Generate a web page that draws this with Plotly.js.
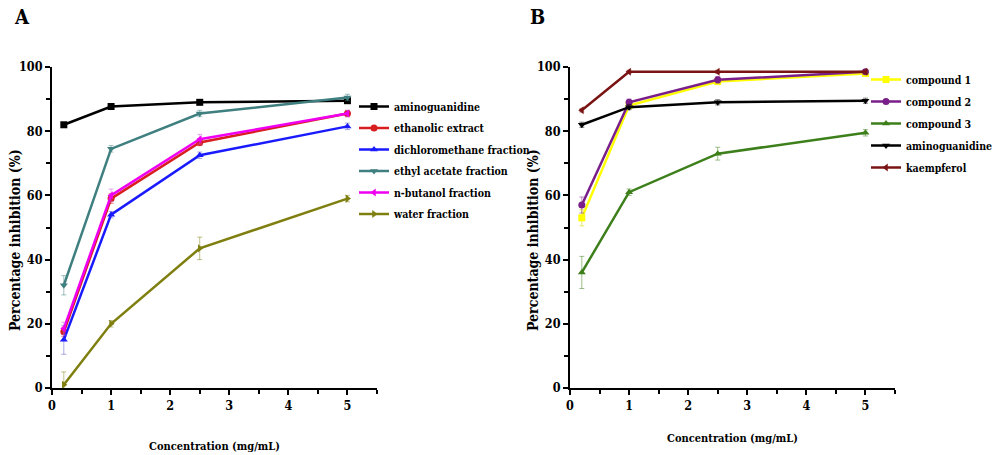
<!DOCTYPE html>
<html>
<head>
<meta charset="utf-8">
<script src="https://cdn.plot.ly/plotly-3.0.1.min.js"></script>
<style>html,body{margin:0;padding:0;background:#fff;}#chart{width:994px;height:455px;}</style>
</head>
<body>
<div id="chart"></div>
<script>
// Concentrations (mg/mL)
const conc = [0.2, 1, 2.5, 5];

// Panel A
const namesA = ["aminoguanidine", "ethanolic extract", "dichloromethane fraction", "ethyl acetate fraction", "n-butanol fraction", "water fraction"];
const aminoA = [82, 87.7, 89, 89.5];
const ethanolic = [17.5, 59, 76.5, 85.5];
const dichloro = [15, 54, 72.5, 81.5];
const ethylAcetate = [32, 74.5, 85.5, 90.5];
const nButanol = [18.5, 60, 77.5, 85.5];
const water = [1, 20, 43.5, 59];
const errAminoA = [0.6, 0.6, 0.6, 0.6];
const errEthanolic = [1.5, 1.5, 1, 1];
const errDichloro = [4.5, 1, 1, 1];
const errEthyl = [3, 1, 1, 1];
const errButanol = [2, 2, 1.5, 1];
const errWater = [4, 1, 3.5, 1];

// Panel B
const namesB = ["compound 1", "compound 2", "compound 3", "aminoguanidine", "kaempferol"];
const comp1 = [53, 88, 95.5, 98];
const comp2 = [57, 89, 96, 98.5];
const comp3 = [36, 61, 73, 79.5];
const aminoB = [82, 87.5, 89, 89.5];
const kaempferol = [86.5, 98.5, 98.5, 98.5];
const errComp1 = [2.5, 1, 1, 0.5];
const errComp2 = [2.5, 1, 1, 0.5];
const errComp3 = [5, 1, 2, 1];
const errAminoB = [0.8, 0.8, 0.8, 0.8];
const errKaemp = [0.5, 0.5, 0.5, 0.5];

const xTickVals = [0, 1, 2, 3, 4, 5];
const yTickVals = [0, 20, 40, 60, 80, 100];
const yTitle = "Percentage inhibition (%)";
const xTitle = "Concentration (mg/mL)";

const FONT = "DejaVu Serif Condensed, DejaVu Serif";

function tr(name, y, err, color, errColor, symbol, xa, ya, leg, grp) {
  return {
    type: "scatter", mode: "lines+markers", name: name, x: conc, y: y,
    xaxis: xa, yaxis: ya, legend: leg, legendgroup: grp,
    line: {color: color, width: 2.5},
    marker: {color: color, symbol: symbol, size: 7},
    error_y: {type: "data", array: err, visible: true, color: errColor, thickness: 1, width: 2.5}
  };
}

const data = [
  tr(namesA[0], aminoA, errAminoA, "#000000", "rgba(0,0,0,0.5)", "square", "x", "y", "legend", "a1"),
  tr(namesA[1], ethanolic, errEthanolic, "#d81e1e", "rgba(216,30,30,0.5)", "circle", "x", "y", "legend", "a2"),
  tr(namesA[2], dichloro, errDichloro, "#1a1aff", "rgba(90,90,200,0.5)", "triangle-up", "x", "y", "legend", "a3"),
  tr(namesA[3], ethylAcetate, errEthyl, "#3f7f7f", "rgba(63,127,127,0.5)", "triangle-down", "x", "y", "legend", "a4"),
  tr(namesA[4], nButanol, errButanol, "#f000f0", "rgba(200,100,220,0.5)", "triangle-left", "x", "y", "legend", "a5"),
  tr(namesA[5], water, errWater, "#7f7f10", "rgba(127,127,16,0.5)", "triangle-right", "x", "y", "legend", "a6"),
  tr(namesB[0], comp1, errComp1, "#ffff00", "rgba(220,220,0,0.6)", "square", "x2", "y2", "legend2", "b1"),
  tr(namesB[1], comp2, errComp2, "#7a1f8a", "rgba(122,31,138,0.5)", "circle", "x2", "y2", "legend2", "b2"),
  tr(namesB[2], comp3, errComp3, "#3d7f1a", "rgba(61,127,26,0.5)", "triangle-up", "x2", "y2", "legend2", "b3"),
  tr(namesB[3], aminoB, errAminoB, "#000000", "rgba(0,0,0,0.5)", "triangle-down", "x2", "y2", "legend2", "b4"),
  tr(namesB[4], kaempferol, errKaemp, "#7a1414", "rgba(122,20,20,0.5)", "triangle-left", "x2", "y2", "legend2", "b5")
];

const W = 994, H = 455;
const yDom = [1 - 388 / H, 1 - 67 / H];

function xAxis(domain, anchor, standoff) {
  return {
    domain: domain, anchor: anchor, range: [0, 5.5],
    tickvals: xTickVals, ticks: "outside", ticklen: 5, tickwidth: 2, tickcolor: "#000",
    minor: {dtick: 0.5, tick0: 0, ticks: "outside", ticklen: 4, tickwidth: 2, tickcolor: "#000"},
    showline: true, linecolor: "#000", linewidth: 2, showgrid: false, zeroline: false,
    tickfont: {family: FONT, size: 12.5, color: "#000", weight: "bold"},
    title: {text: xTitle, standoff: standoff, font: {family: FONT, size: 11, color: "#000", weight: "bold"}},
    fixedrange: true
  };
}
function yAxis(anchor) {
  return {
    domain: yDom, anchor: anchor, range: [0, 100],
    tickvals: yTickVals, ticks: "outside", ticklen: 5, tickwidth: 2, tickcolor: "#000",
    minor: {dtick: 10, tick0: 0, ticks: "outside", ticklen: 4, tickwidth: 2, tickcolor: "#000"},
    showline: true, linecolor: "#000", linewidth: 2, showgrid: false, zeroline: false,
    tickfont: {family: FONT, size: 12.5, color: "#000", weight: "bold"},
    fixedrange: true
  };
}

const legFont = {family: FONT, size: 10.5, color: "#000", weight: "bold"};
const titleFont = {family: FONT, size: 14, color: "#000", weight: "bold"};

const layout = {
  width: W, height: H, autosize: false,
  margin: {l: 0, r: 0, t: 0, b: 0, autoexpand: false},
  paper_bgcolor: "#fff", plot_bgcolor: "#fff",
  showlegend: true,
  xaxis: xAxis([52 / W, 377 / W], "y", 30),
  yaxis: yAxis("x"),
  xaxis2: xAxis([570 / W, 895 / W], "y2", 22),
  yaxis2: yAxis("x2"),
  legend: {x: 354 / W, y: 1 - 92 / H, xanchor: "left", yanchor: "top", font: legFont,
           bgcolor: "rgba(0,0,0,0)", tracegroupgap: 2.5, traceorder: "grouped"},
  legend2: {x: 1 + 4 / W, y: 1 - 65 / H, xanchor: "right", yanchor: "top", font: legFont,
            bgcolor: "rgba(0,0,0,0)", tracegroupgap: 3, traceorder: "grouped"},
  annotations: [
    {text: "A", xref: "paper", yref: "paper", x: 12 / W, y: 1 - 17 / H, xanchor: "left", yanchor: "middle",
     showarrow: false, font: {family: FONT, size: 20, color: "#000", weight: "bold"}},
    {text: "B", xref: "paper", yref: "paper", x: 528 / W, y: 1 - 17 / H, xanchor: "left", yanchor: "middle",
     showarrow: false, font: {family: FONT, size: 20, color: "#000", weight: "bold"}},
    {text: yTitle, xref: "paper", yref: "paper", x: 15 / W, y: 1 - 240 / H, xanchor: "center", yanchor: "middle",
     textangle: -90, showarrow: false, font: titleFont},
    {text: yTitle, xref: "paper", yref: "paper", x: 533 / W, y: 1 - 240 / H, xanchor: "center", yanchor: "middle",
     textangle: -90, showarrow: false, font: titleFont}
  ]
};

Plotly.newPlot("chart", data, layout, {displayModeBar: false, staticPlot: true});
</script>
</body>
</html>
